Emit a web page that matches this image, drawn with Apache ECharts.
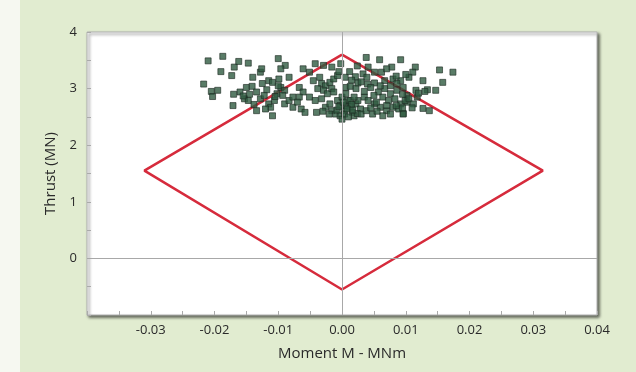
<!DOCTYPE html>
<html>
<head>
<meta charset="utf-8">
<script src="https://cdn.jsdelivr.net/npm/echarts@6/dist/echarts.min.js"></script>
<style>
  html, body { margin: 0; padding: 0; }
  #chart { width: 636px; height: 372px; }
</style>
</head>
<body>
<div id="chart"></div>
<script>
// allowable region (diamond) corners: [moment, thrust]
const envelope = [[0, 3.6], [0.0315, 1.55], [0, -0.55], [-0.031, 1.55], [0, 3.6]]

// measured points [moment MNm, thrust MN]
const measured = [
  [-0.0217, 3.08], [-0.0210, 3.49], [-0.0205, 2.95], [-0.0195, 2.97], [-0.0203, 2.86], [-0.0190, 3.30],
  [-0.0187, 3.57], [-0.0173, 3.23], [-0.0171, 2.70], [-0.0169, 3.38], [-0.0162, 3.48], [-0.0147, 3.45],
  [-0.0128, 3.29], [-0.0100, 3.53], [-0.0089, 3.41], [-0.0096, 3.35], [-0.0061, 3.35], [-0.0042, 3.44],
  [-0.0029, 3.41], [-0.0016, 3.38], [-0.0002, 3.44], [0.0038, 3.55], [0.0059, 3.51], [0.0092, 3.51],
  [0.0078, 3.38], [0.0115, 3.38], [0.0153, 3.33], [0.0174, 3.29], [0.0158, 3.11], [0.0147, 2.97],
  [0.0134, 2.98], [0.0127, 3.14], [0.0127, 2.65], [0.0137, 2.61], [0.0096, 2.56], [0.0102, 2.76],
  [0.0102, 2.88], [0.0116, 2.97], [0.0118, 2.85], [0.0111, 3.29], [0.0105, 3.20], [0.0080, 3.17],
  [0.0092, 3.14], [0.0051, 3.29], [0.0062, 3.29], [0.0041, 3.38], [0.0021, 3.21], [0.0033, 3.26],
  [0.0039, 3.20], [0.0006, 3.02], [0.0013, 3.04], [0.0022, 3.00], [0.0025, 3.10], [0.0040, 3.08],
  [0.0051, 3.10],
  [-0.0160, 2.94], [-0.0150, 3.02], [-0.0141, 3.04], [-0.0153, 2.82], [-0.0147, 2.79], [-0.0134, 2.94],
  [-0.0128, 2.82], [-0.0122, 2.88], [-0.0125, 3.09], [-0.0115, 3.14], [-0.0109, 3.11], [-0.0099, 3.17],
  [-0.0096, 3.02], [-0.0090, 2.97], [-0.0102, 2.91], [-0.0106, 2.79], [-0.0115, 2.73], [-0.0112, 2.67],
  [-0.0134, 2.61], [-0.0109, 2.52], [-0.0090, 2.73], [-0.0083, 2.79], [-0.0077, 2.85], [-0.0083, 3.20],
  [-0.0067, 3.02], [-0.0061, 2.94], [-0.0067, 2.85], [-0.0064, 2.64], [-0.0058, 2.58], [-0.0077, 2.67],
  [-0.0070, 2.76], [-0.0145, 2.90], [-0.0138, 2.72], [-0.0118, 2.98], [-0.0105, 2.86], [-0.0093, 2.88],
  [-0.0100, 3.05], [-0.0120, 2.64], [-0.0155, 2.87], [-0.0170, 2.90], [-0.0140, 3.20], [-0.0126, 3.35],
  [-0.0051, 3.29], [-0.0045, 3.14], [-0.0035, 3.20], [-0.0032, 3.09], [-0.0026, 3.05], [-0.0019, 3.11],
  [-0.0013, 3.17], [-0.0007, 3.23], [-0.0038, 3.00], [-0.0029, 2.97], [-0.0023, 2.91], [-0.0016, 3.00],
  [-0.0051, 2.85], [-0.0042, 2.79], [-0.0032, 2.82], [-0.0026, 2.67], [-0.0019, 2.73], [-0.0016, 2.61],
  [-0.0010, 2.55], [-0.0003, 2.52], [0.0000, 2.46], [0.0003, 2.61], [0.0006, 2.70], [0.0009, 2.79],
  [0.0013, 2.67], [0.0016, 2.58], [0.0019, 2.52], [0.0022, 2.73], [0.0025, 2.79], [0.0029, 2.64],
  [0.0035, 2.85], [0.0041, 2.79], [-0.0007, 2.79], [0.0000, 2.85], [0.0006, 2.91], [-0.0013, 2.94],
  [-0.0040, 2.58], [-0.0003, 2.70], [0.0013, 2.79], [0.0019, 2.85],
  [-0.0008, 2.62], [0.0004, 2.55], [0.0010, 2.50], [0.0024, 2.56], [0.0015, 2.72], [-0.0020, 2.55],
  [-0.0005, 2.68], [0.0008, 2.64], [0.0030, 2.55], [-0.0030, 2.60], [0.0017, 2.62], [0.0002, 2.76],
  [0.0045, 3.02], [0.0057, 2.94], [0.0067, 3.00], [0.0076, 2.91], [0.0086, 2.97], [0.0096, 3.02],
  [0.0064, 2.85], [0.0073, 2.79], [0.0083, 2.82], [0.0092, 2.73], [0.0099, 2.79], [0.0051, 2.73],
  [0.0060, 2.67], [0.0070, 2.61], [0.0080, 2.67], [0.0089, 2.64], [0.0064, 2.52], [0.0076, 2.55],
  [0.0096, 2.55], [0.0105, 2.82], [0.0112, 2.73], [0.0038, 2.61], [0.0048, 2.55], [0.0054, 2.76],
  [0.0067, 3.14], [0.0086, 3.09], [0.0076, 3.05],
  [0.0055, 2.60], [0.0085, 2.70], [0.0070, 2.70], [0.0045, 2.66], [0.0095, 2.66], [0.0110, 2.66],
  [0.0120, 2.92], [0.0130, 2.95], [0.0095, 2.90], [0.0060, 3.05], [0.0050, 2.88], [0.0035, 2.95],
  [0.0030, 3.12], [0.0015, 3.15], [0.0005, 3.20], [0.0100, 3.25], [0.0085, 3.22], [0.0070, 3.35],
  [0.0024, 3.40], [0.0012, 3.30], [-0.0005, 3.30]
]

const xTicks = { min: -0.04, max: 0.04, step: 0.01 }
const yTicks = { min: -1, max: 4, step: 1 }

const chart = echarts.init(document.getElementById('chart'))
const font = '"Open Sans", "Noto Sans", sans-serif'

chart.setOption({
  backgroundColor: '#e1ecd0',
  animation: false,
  textStyle: { fontFamily: font },
  graphic: [{
    type: 'rect',
    left: 0,
    top: 0,
    shape: { width: 20, height: 372 },
    style: { fill: '#f6f8f1' },
    z: -1
  }],
  grid: {
    left: 87,
    right: 39,
    top: 32,
    bottom: 57,
    show: true,
    backgroundColor: '#ffffff',
    borderColor: '#b5b5b5',
    borderWidth: 1,
    shadowColor: 'rgba(0,0,0,0.6)',
    shadowBlur: 3,
    shadowOffsetX: 2,
    shadowOffsetY: 2
  },
  xAxis: {
    type: 'value',
    min: xTicks.min,
    max: xTicks.max,
    interval: xTicks.step,
    axisLine: { onZero: false, show: false },
    axisTick: { show: true, inside: true, length: 4, lineStyle: { color: '#aaa' } },
    minorTick: { show: true, splitNumber: 2, length: 4, lineStyle: { color: '#aaa' } },
    splitLine: { show: false },
    axisLabel: {
      showMinLabel: false,
      color: '#2a2a2a',
      fontSize: 13,
      margin: 9,
      formatter: v => v.toFixed(2)
    },
    name: 'Moment M - MNm',
    nameLocation: 'middle',
    nameGap: 31,
    nameTextStyle: { color: '#2a2a2a', fontSize: 15 }
  },
  yAxis: {
    type: 'value',
    min: yTicks.min,
    max: yTicks.max,
    interval: yTicks.step,
    axisLine: { onZero: false, show: false },
    axisTick: { show: true, inside: true, length: 4, lineStyle: { color: '#aaa' } },
    minorTick: { show: true, splitNumber: 2, length: 4, lineStyle: { color: '#aaa' } },
    splitLine: { show: false },
    axisLabel: {
      showMinLabel: false,
      color: '#2a2a2a',
      fontSize: 13,
      margin: 10
    },
    name: 'Thrust (MN)',
    nameLocation: 'middle',
    nameGap: 27,
    nameTextStyle: { color: '#2a2a2a', fontSize: 15 }
  },
  series: [
    {
      type: 'line',
      data: envelope,
      showSymbol: false,
      symbol: 'none',
      lineStyle: { color: '#d62b3c', width: 2.5 },
      z: 3,
      markLine: {
        silent: true,
        symbol: 'none',
        label: { show: false },
        lineStyle: { color: '#a8a8a8', width: 1, type: 'solid' },
        data: [{ xAxis: 0 }, { yAxis: 0 }]
      }
    },
    {
      type: 'scatter',
      data: measured,
      symbol: 'rect',
      symbolSize: 6,
      itemStyle: { color: '#2f5b41', borderColor: '#1e2a22', borderWidth: 0.8 },
      z: 4
    }
  ]
})
</script>
</body>
</html>
